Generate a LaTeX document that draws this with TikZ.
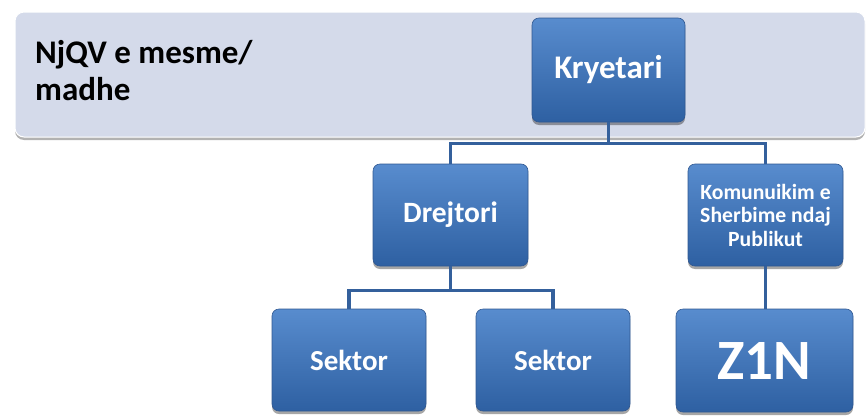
\documentclass[tikz,border=0pt]{standalone}
\usepackage{fontspec}
\setmainfont{Carlito}
\usetikzlibrary{shadows}
\definecolor{bandfill}{RGB}{212,218,234}
\definecolor{boxtop}{RGB}{88,140,206}
\definecolor{boxbot}{RGB}{46,96,162}
\definecolor{boxedge}{RGB}{48,88,145}
\definecolor{linkcol}{RGB}{52,96,156}
\tikzset{
  orgbox/.style={rectangle, rounded corners=7pt, top color=boxtop, bottom color=boxbot,
    draw=boxedge, line width=0.6pt, text=white, font=\bfseries, align=center,
    inner sep=2pt, drop shadow={shadow xshift=0pt, shadow yshift=-3pt, opacity=0.35, fill=black}},
  link/.style={draw=linkcol, line width=3.5pt},
}
\begin{document}
\begin{tikzpicture}[x=1pt,y=-1pt]
\useasboundingbox (0,0) rectangle (867,415);
% band
\node[rectangle, rounded corners=9pt, fill=bandfill, draw=white, line width=1pt,
  minimum width=850pt, minimum height=125pt, inner sep=0pt,
  drop shadow={shadow xshift=0pt, shadow yshift=-3pt, opacity=0.3, fill=black}] (band) at (440,74.5) {};
\node[anchor=base west, inner sep=0pt, font=\fontsize{33}{37}\selectfont\bfseries] (title1) at (35,63) {NjQV e mesme/};
\node[anchor=base west, inner sep=0pt, font=\fontsize{33}{37}\selectfont\bfseries] (title2) at (35,100) {madhe};
% boxes
\node[orgbox, minimum width=153pt, minimum height=104pt, font=\fontsize{33}{36}\selectfont\bfseries] (kry) at (608.5,70) {Kryetari};
\node[orgbox, minimum width=155pt, minimum height=102pt, font=\fontsize{29.5}{36}\selectfont\bfseries] (dre) at (450.5,215) {Drejtori};
\node[orgbox, minimum width=155pt, minimum height=102pt, font=\fontsize{21.7}{23.5}\selectfont\bfseries] (kom) at (765.5,215) {Komunuikim e\\Sherbime ndaj\\Publikut};
\node[orgbox, minimum width=154pt, minimum height=102pt, font=\fontsize{29}{34}\selectfont\bfseries] (sek1) at (349,360) {Sektor};
\node[orgbox, minimum width=154pt, minimum height=102pt, font=\fontsize{29}{34}\selectfont\bfseries] (sek2) at (553,360) {Sektor};
\node[orgbox, minimum width=177pt, minimum height=103pt, font=\fontsize{57}{60}\selectfont\bfseries] (z1n) at (764.5,360.5) {Z1N};
% connectors
\draw[link] (kry.south) -- ++(0,21) -| (dre.north);
\draw[link] (kry.south) -- ++(0,21) -| (kom.north);
\draw[link] (dre.south) -- ++(0,24) -| (sek1.north);
\draw[link] (dre.south) -- ++(0,24) -| (sek2.north);
\draw[link] (kom.south) -- (kom.south |- z1n.north);
\end{tikzpicture}
\end{document}
